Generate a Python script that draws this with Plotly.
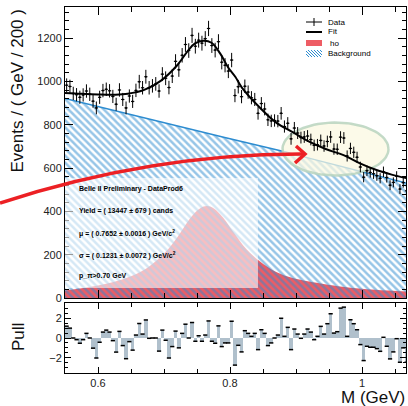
import numpy as np
import plotly.graph_objects as go

# ---------------- data ----------------
bin_lo = 0.55
bin_width = 0.005
counts = [983, 977, 945, 939, 927, 938, 956, 941, 909, 878,
          927, 958, 964, 957, 931, 895, 961, 917, 878, 933,
          908, 959, 999, 971, 1022, 971, 980, 989, 956, 1034,
          1015, 972, 1025, 1093, 1054, 1121, 1171, 1143, 1213, 1163,
          1191, 1177, 1198, 1245, 1166, 1145, 1184, 1089, 1075, 1048,
          1099, 935, 976, 930, 978, 951, 925, 917, 853, 898,
          873, 823, 818, 820, 817, 853, 792, 807, 735, 785,
          762, 741, 744, 748, 732, 705, 708, 728, 702, 723,
          744, 688, 687, 743, 739, 656, 691, 673, 650, 605,
          558, 588, 580, 574, 565, 553, 583, 557, 521, 534,
          562, 503, 533, 495]
pulls = [1.2, 1.0, 0.0, -0.17, -0.53, -0.17, 0.47, 0.0, -1.03, -2.03,
         -0.43, 0.6, 0.8, 0.6, -0.27, -1.43, 0.67, -0.77, -2.1, -0.37,
         -1.23, 0.3, 1.47, 0.4, 1.83, -0.03, 0.0, 0.0, -1.33, 0.8,
         -0.23, -2.03, -0.87, 0.7, -1.0, 0.47, 1.4, 0.0, 1.57, -0.33,
         0.23, -0.33, 0.3, 1.73, -0.33, -0.53, 1.23, -0.87, -0.5, -0.5,
         1.7, -2.75, -0.74, -1.41, 0.74, 0.47, 0.17, 0.47, -1.18, 0.84,
         0.47, -0.77, -0.5, 0.0, 0.3, 2.0, 0.17, 1.08, -1.18, 0.91,
         0.4, -0.03, 0.4, 0.91, 0.6, -0.17, 0.17, 1.18, 0.4, 1.45,
         2.46, 0.5, 0.64, 3.03, 3.13, 0.17, 1.85, 1.45, 0.84, -0.67,
         -2.29, -0.84, -0.94, -0.94, -1.08, -1.35, 0.07, -0.84, -2.12, -1.41,
         -0.07, -2.46, -1.0, -2.46]

fit_x = [0.55, 0.575, 0.60, 0.625, 0.645, 0.67, 0.695, 0.72, 0.737, 0.747,
         0.76, 0.772, 0.785, 0.797, 0.808, 0.818, 0.845, 0.87, 0.895, 0.92,
         0.945, 0.972, 0.997, 1.022, 1.045, 1.068]
fit_y = [947, 943, 940, 939, 943, 961, 1003, 1075, 1145, 1176,
         1188, 1179, 1130, 1066, 1022, 972, 880, 810, 766, 722,
         688, 660, 622, 591, 570, 553]

bkg_x = [0.55, 0.682, 0.792, 0.883, 0.921, 1.068]
bkg_y = [922, 822, 741, 676, 645, 530]

sig_x = [0.55, 0.575, 0.60, 0.625, 0.65, 0.675, 0.70, 0.72, 0.74, 0.755,
         0.765, 0.775, 0.79, 0.805, 0.825, 0.845, 0.87, 0.895, 0.92, 0.97,
         1.02, 1.068]
sig_y = [35, 45, 58, 75, 100, 140, 205, 280, 370, 415,
         425, 415, 370, 305, 225, 170, 120, 92, 76, 52,
         38, 30]

box_lines = ["Belle II Preliminary - DataProd6",
             "Yield = ( 13447 ± 679 ) cands",
             "μ = ( 0.7652 ± 0.0016 ) GeV/c<sup>2</sup>",
             "σ = ( 0.1231 ± 0.0072 ) GeV/c<sup>2</sup>",
             "p_π>0.70 GeV"]
legend_labels = ["Data", "Fit", "ho", "Background"]

# ---------------- helpers ----------------
n = len(counts)
centers = [bin_lo + bin_width * (i + 0.5) for i in range(n)]
errs = list(np.sqrt(counts))

L, R, T, B = 65, 406, 7, 373
W = R - L
H = B - T


def px(x):
    return (x - L) / W


def py(y):
    return (B - y) / H


FONT = "Liberation Sans, Arial, Helvetica, sans-serif"
RED = "rgb(238,92,100)"
BLUE = "rgb(45,140,208)"

fig = go.Figure()

# signal component (red fill)
fig.add_trace(go.Scatter(x=sig_x, y=sig_y, mode="lines", line=dict(color=RED, width=0, shape="spline"),
                         fill="tozeroy", fillcolor=RED, hoverinfo="skip", showlegend=False))
# background component (hatched)
fig.add_trace(go.Scatter(x=bkg_x, y=bkg_y, mode="lines", line=dict(color=BLUE, width=1.5),
                         fill="tozeroy", fillcolor="rgba(0,0,0,0)",
                         fillpattern=dict(shape="\\", fgcolor=BLUE, bgcolor="rgba(0,0,0,0)",
                                          size=5, solidity=0.5),
                         hoverinfo="skip", showlegend=False))

# highlight ellipse (annotation decoration)
ecx, ecy = 0.55 + (335.5 - L) / 660.0, (298 - 149) / 0.2165
erx, ery = 53 / 660.0, 26.5 / 0.2165
t = np.linspace(0, 2 * np.pi, 80)
fig.add_trace(go.Scatter(x=ecx + erx * np.cos(t), y=ecy + ery * np.sin(t), mode="lines",
                         line=dict(color="rgba(185,212,190,0.85)", width=2.5),
                         fill="toself", fillcolor="rgba(251,248,224,0.72)",
                         hoverinfo="skip", showlegend=False))

# fit curve
fig.add_trace(go.Scatter(x=fit_x, y=fit_y, mode="lines", line=dict(color="black", width=2, shape="spline"),
                         hoverinfo="skip", showlegend=False))
# data points
fig.add_trace(go.Scatter(x=centers, y=counts, mode="markers",
                         marker=dict(color="black", size=2),
                         error_y=dict(type="data", array=errs, color="black", thickness=1, width=0),
                         error_x=dict(type="constant", value=bin_width / 2, color="black", thickness=1, width=0),
                         showlegend=False))

# pull panel
fig.add_trace(go.Bar(x=centers, y=pulls, width=bin_width, marker=dict(color="rgb(176,192,204)", line=dict(width=0)),
                     xaxis="x2", yaxis="y2", showlegend=False, hoverinfo="skip"))
fig.add_trace(go.Scatter(x=centers, y=pulls, mode="markers", xaxis="x2", yaxis="y2",
                         marker=dict(symbol="line-ew", size=3, line=dict(color="black", width=1.5)),
                         showlegend=False, hoverinfo="skip"))

axis_common = dict(showline=True, linecolor="black", linewidth=1, mirror="ticks", ticks="inside",
                   tickcolor="black", showgrid=False, zeroline=False,
                   tickfont=dict(family=FONT, size=11, color="#222"))

x_range = [0.55, 0.55 + W / 660.0]
fig.update_layout(
    width=408, height=406,
    margin=dict(l=L, r=408 - R, t=T, b=406 - B),
    paper_bgcolor="white", plot_bgcolor="white",
    bargap=0,
    xaxis=dict(domain=[0, 1], anchor="y", range=x_range, dtick=0.2, tick0=0,
               ticklen=8, showticklabels=False,
               minor=dict(dtick=0.05, tick0=0, ticklen=5, ticks="inside", tickcolor="black"),
               **axis_common),
    yaxis=dict(domain=[py(298), 1], anchor="x", range=[0, (298 - 7) / 0.2165],
               dtick=200, tick0=0, ticklen=8,
               minor=dict(dtick=40, tick0=0, ticklen=4, ticks="inside", tickcolor="black"),
               **axis_common),
    xaxis2=dict(domain=[0, 1], anchor="y2", range=x_range, dtick=0.2, tick0=0,
                ticklen=6, matches="x",
                minor=dict(dtick=0.05, tick0=0, ticklen=4, ticks="inside", tickcolor="black"),
                **axis_common),
    yaxis2=dict(domain=[0, py(303)], anchor="x2", range=[-3.55, 3.55], dtick=2, tick0=0, ticklen=6,
                minor=dict(dtick=0.5, tick0=0, ticklen=3, ticks="inside", tickcolor="black"),
                **axis_common),
)

shapes = []
# semi-transparent text box
shapes.append(dict(type="rect", xref="x", yref="y", x0=0.55, x1=0.8424, y0=46, y1=554,
                   fillcolor="white", opacity=0.6, line=dict(width=0), layer="above"))
# red curved arrow
shapes.append(dict(type="path", xref="paper", yref="paper",
                   path=f"M {px(0)},{py(203)} Q {px(151.5)},{py(153.5)} {px(303)},{py(154)}",
                   line=dict(color="rgb(236,32,36)", width=3.5), layer="above"))
shapes.append(dict(type="path", xref="paper", yref="paper",
                   path=f"M {px(296)},{py(146)} L {px(305)},{py(154)} L {px(295)},{py(163)}",
                   line=dict(color="rgb(236,32,36)", width=3.5), layer="above"))

# legend swatches
sx0, sx1 = 306, 322
shapes.append(dict(type="line", xref="paper", yref="paper", x0=px(sx0), x1=px(sx1), y0=py(22), y1=py(22),
                   line=dict(color="black", width=1)))
shapes.append(dict(type="line", xref="paper", yref="paper", x0=px(314), x1=px(314), y0=py(18), y1=py(26),
                   line=dict(color="black", width=1)))
shapes.append(dict(type="line", xref="paper", yref="paper", x0=px(sx0), x1=px(sx1), y0=py(32), y1=py(32),
                   line=dict(color="black", width=2)))
shapes.append(dict(type="rect", xref="paper", yref="paper", x0=px(sx0), x1=px(sx1), y0=py(46), y1=py(40),
                   fillcolor=RED, line=dict(width=0)))
hy0, hy1 = 50, 57
for k in range(-7, 18, 3):
    xa, ya = sx0 + k, hy0
    xb, yb = sx0 + k + (hy1 - hy0), hy1
    if xa < sx0:
        ya += sx0 - xa
        xa = sx0
    if xb > sx1:
        yb -= xb - sx1
        xb = sx1
    if xb > xa:
        shapes.append(dict(type="line", xref="paper", yref="paper", x0=px(xa), x1=px(xb), y0=py(ya), y1=py(yb),
                           line=dict(color=BLUE, width=1)))
fig.update_layout(shapes=shapes)

ann = []
for lab, yy in zip(legend_labels, [22, 32, 43, 53]):
    ann.append(dict(x=px(328 if lab == "ho" else 326), y=py(yy), xref="paper", yref="paper", text=lab,
                    showarrow=False, xanchor="left", yanchor="middle",
                    font=dict(family=FONT, size=8, color="black")))
for txt, yy in zip(box_lines, [189, 211, 233, 255, 276]):
    ann.append(dict(x=px(77), y=py(yy), xref="paper", yref="paper", text="<b>" + txt + "</b>",
                    showarrow=False, xanchor="left", yanchor="middle",
                    font=dict(family=FONT, size=7, color="black")))
ann.append(dict(x=px(17), y=py(91.5), xref="paper", yref="paper", text="Events / ( GeV / 200 )",
                textangle=-90, showarrow=False, xanchor="center", yanchor="middle",
                font=dict(family=FONT, size=17, color="#111")))
ann.append(dict(x=px(18), y=py(337), xref="paper", yref="paper", text="Pull",
                textangle=-90, showarrow=False, xanchor="center", yanchor="middle",
                font=dict(family=FONT, size=17, color="#111")))
ann.append(dict(x=px(407), y=py(397), xref="paper", yref="paper", text="M (GeV)",
                showarrow=False, xanchor="right", yanchor="middle",
                font=dict(family=FONT, size=17, color="#111")))
fig.update_layout(annotations=ann)

fig.write_html("out.html")
